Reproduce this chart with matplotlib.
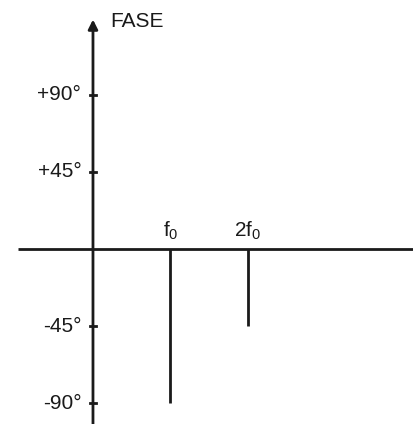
import matplotlib.pyplot as plt

# datos del espectro de fase
armonicos = [1, 2]
etiquetas = [r'$\mathrm{f}_0$', r'$\mathrm{2f}_0$']
fase = [-90, -45]
ticks = [90, 45, -45, -90]
tick_labels = ['+90°', '+45°', '-45°', '-90°']

fuente = ['Liberation Sans', 'DejaVu Sans']
plt.rcParams['font.family'] = fuente
plt.rcParams['mathtext.fontset'] = 'custom'
plt.rcParams['mathtext.rm'] = 'Liberation Sans'
plt.rcParams['mathtext.it'] = 'Liberation Sans'

color = '#1a1a1a'

fig = plt.figure(figsize=(4.13, 4.24), dpi=100)
ax = fig.add_axes([0, 0, 1, 1])
ax.set_xlim(-1.2, 4.13)
ax.set_ylim(-102.2, 145.4)
ax.axis('off')

# ejes
ax.plot([-0.97, 4.13], [0, 0], color=color, lw=2, solid_capstyle='butt')
ax.annotate('', xy=(0, 134), xytext=(0, -103),
            arrowprops=dict(arrowstyle='-|>', lw=2, color=color, mutation_scale=14,
                            shrinkA=0, shrinkB=0))
ax.text(0.22, 133, 'FASE', fontsize=15, color=color, ha='left', va='center')

# marcas del eje vertical
for t, lab in zip(ticks, tick_labels):
    ax.plot([-0.04, 0.04], [t, t], color=color, lw=2)
    ax.text(-0.15, t, lab, fontsize=15, color=color, ha='right', va='center')

# rayas del espectro
ax.vlines(armonicos, 0, fase, color=color, lw=2)
for x, lab in zip(armonicos, etiquetas):
    ax.text(x, 4, lab, fontsize=15, color=color, ha='center', va='bottom')

fig.savefig('out.png', dpi=100)
